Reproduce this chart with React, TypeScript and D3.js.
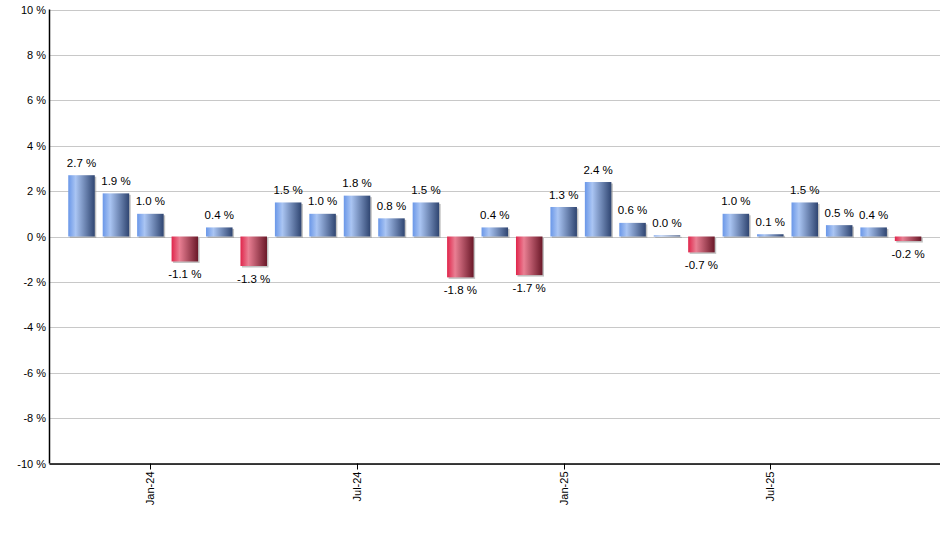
import React, { useEffect } from "react";
import * as d3 from "d3";

const months = [
  "Nov-23", "Dec-23", "Jan-24", "Feb-24", "Mar-24", "Apr-24", "May-24", "Jun-24",
  "Jul-24", "Aug-24", "Sep-24", "Oct-24", "Nov-24", "Dec-24", "Jan-25", "Feb-25",
  "Mar-25", "Apr-25", "May-25", "Jun-25", "Jul-25", "Aug-25", "Sep-25", "Oct-25", "Nov-25",
];
const values = [
  2.7, 1.9, 1.0, -1.1, 0.4, -1.3, 1.5, 1.0, 1.8, 0.8, 1.5, -1.8, 0.4, -1.7, 1.3, 2.4,
  0.6, 0.05, -0.7, 1.0, 0.1, 1.5, 0.5, 0.4, -0.2,
];
const labels = [
  "2.7 %", "1.9 %", "1.0 %", "-1.1 %", "0.4 %", "-1.3 %", "1.5 %", "1.0 %", "1.8 %", "0.8 %",
  "1.5 %", "-1.8 %", "0.4 %", "-1.7 %", "1.3 %", "2.4 %", "0.6 %", "0.0 %", "-0.7 %", "1.0 %",
  "0.1 %", "1.5 %", "0.5 %", "0.4 %", "-0.2 %",
];
const xTickLabels = ["Jan-24", "Jul-24", "Jan-25", "Jul-25"];
const yTicks = [-10, -8, -6, -4, -2, 0, 2, 4, 6, 8, 10];

const W = 940;
const H = 550;
const plotLeft = 49.5;
const plotRight = 940;
const plotTop = 9.5;
const plotBottom = 463.5;
const font = "Arial, 'Liberation Sans', sans-serif";

export default function App() {
  useEffect(() => {
    document.body.style.margin = "0";
  }, []);

  const x = d3.scaleBand<string>().domain(months).range([64.3, 925.3]).paddingInner(0.23).paddingOuter(0.115);
  const y = d3.scaleLinear().domain([-10, 10]).range([plotBottom, plotTop]);
  const bw = x.bandwidth();

  return (
    <svg width={W} height={H} style={{ display: "block", fontFamily: font }}>
      <defs>
        <linearGradient id="gBlue" x1="0" x2="1" y1="0" y2="0">
          <stop offset="0%" stopColor="#6a97e8" />
          <stop offset="28%" stopColor="#aac5f3" />
          <stop offset="100%" stopColor="#2f4571" />
        </linearGradient>
        <linearGradient id="gRed" x1="0" x2="1" y1="0" y2="0">
          <stop offset="0%" stopColor="#e0254b" />
          <stop offset="30%" stopColor="#e97f93" />
          <stop offset="100%" stopColor="#6a1828" />
        </linearGradient>
      </defs>
      <rect x={0} y={0} width={W} height={H} fill="#fff" />
      {yTicks.map((t) => (
        <g key={t}>
          <line x1={plotLeft} x2={plotRight} y1={Math.round(y(t)) + 0.5} y2={Math.round(y(t)) + 0.5} stroke="#c8c8c8" strokeWidth={1} />
          <text x={46} y={Math.round(y(t)) + 0.5} dy="0.35em" textAnchor="end" fontSize={11} fill="#000">
            {t} %
          </text>
        </g>
      ))}
      {months.map((m, i) => {
        const v = values[i];
        const x0 = x(m)!;
        const y0 = y(Math.max(0, v));
        const h = Math.abs(y(v) - y(0));
        const pos = v >= 0;
        return (
          <g key={m}>
            <rect x={x0 + 1.5} y={y0 + 1.5} width={bw} height={h} fill="#9a9a9a" opacity={0.6} />
            <rect x={x0} y={y0} width={bw} height={h} fill={pos ? "url(#gBlue)" : "url(#gRed)"} />
            <text
              x={x0 + bw / 2}
              y={pos ? y(v) - 12.5 : y(v) + 12.5}
              dy="0.35em"
              textAnchor="middle"
              fontSize={11.5}
              fill="#000"
            >
              {labels[i]}
            </text>
          </g>
        );
      })}
      <line x1={plotLeft} x2={plotLeft} y1={plotTop} y2={plotBottom} stroke="#000" strokeWidth={1.5} />
      <line x1={plotLeft} x2={plotRight} y1={plotBottom + 0.5} y2={plotBottom + 0.5} stroke="#000" strokeWidth={1.5} />
      {xTickLabels.map((lab) => {
        const cx = Math.round(x(lab)! + bw / 2) + 0.5;
        return (
          <g key={lab}>
            <line x1={cx} x2={cx} y1={plotBottom} y2={plotBottom + 6} stroke="#000" strokeWidth={1} />
            <text
              transform={`translate(${cx},${plotBottom + 8}) rotate(-90)`}
              textAnchor="end"
              dy="0.35em"
              fontSize={11}
              fill="#000"
            >
              {lab}
            </text>
          </g>
        );
      })}
    </svg>
  );
}
